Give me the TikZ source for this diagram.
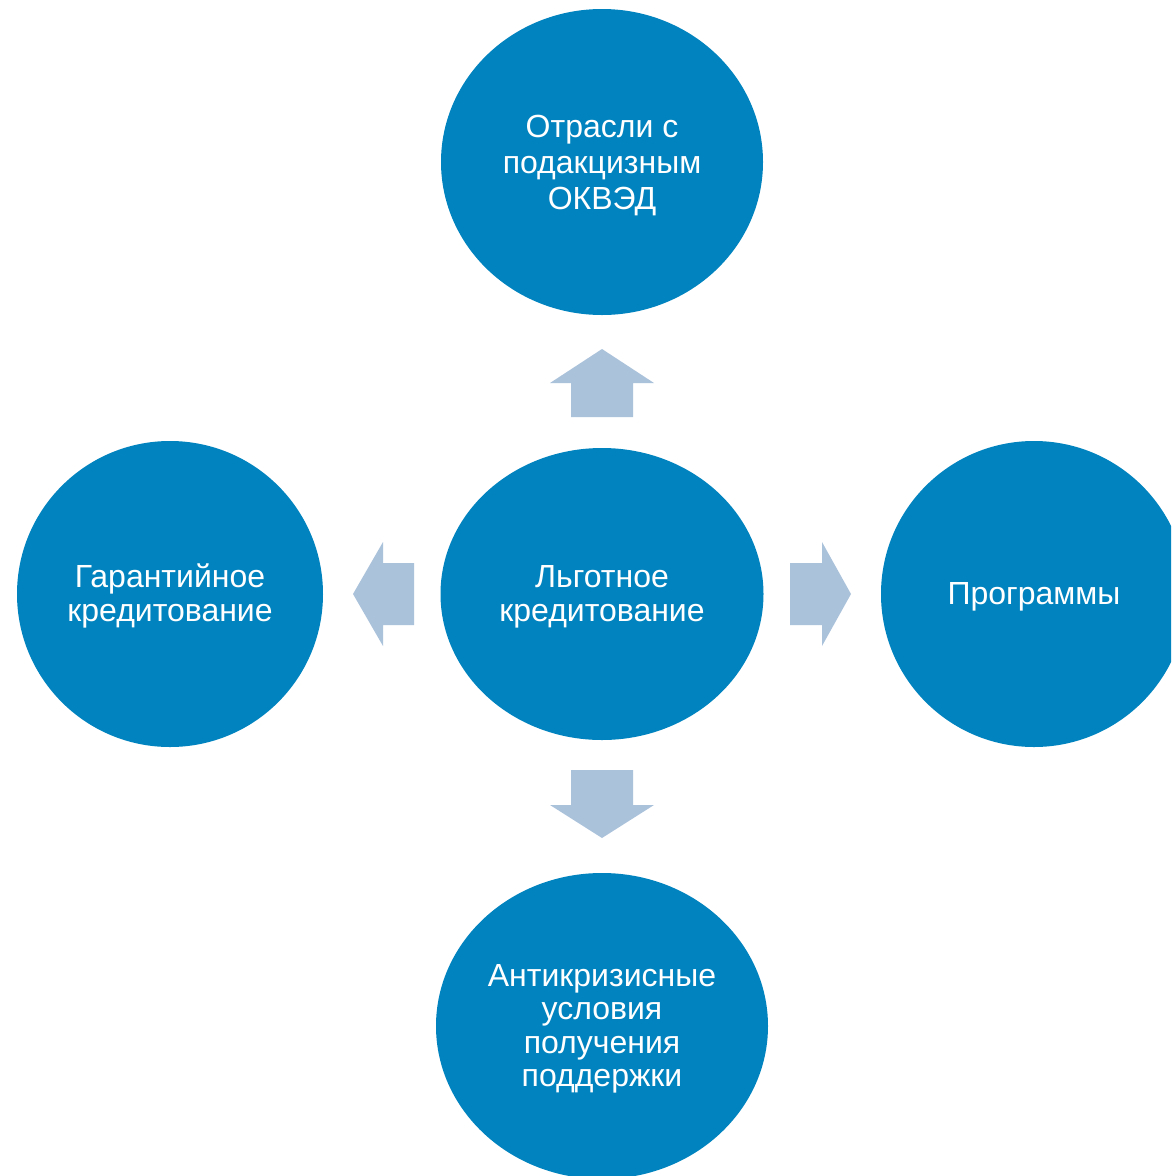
\documentclass[tikz,border=0pt]{standalone}
\usepackage{fontspec}
\setmainfont{Liberation Sans}
\usetikzlibrary{shapes.geometric}
\definecolor{circblue}{RGB}{0,131,190}
\definecolor{arrblue}{RGB}{171,194,219}
\newcommand{\bubtext}[2][34]{\fontsize{32}{#1}\selectfont\raisebox{-4pt}[\height][\depth]{\begin{tabular}{@{}c@{}}#2\end{tabular}}}
\begin{document}
\begin{tikzpicture}[x=1pt,y=-1pt,
  bubble/.style={ellipse,fill=circblue,draw=none,inner sep=0pt,text=white},
  blockarrow/.style={fill=arrblue,draw=none}]
\useasboundingbox (0,0) rectangle (1171,1176);
\clip (0,0) rectangle (1171,1176);
\node[bubble,minimum width=322pt,minimum height=306pt] (top) at (602,162) {\bubtext[36]{Отрасли с\\подакцизным\\ОКВЭД}};
\node[bubble,minimum width=323pt,minimum height=292pt] (center) at (602,594) {\bubtext{Льготное\\кредитование}};
\node[bubble,minimum width=306pt,minimum height=306pt] (left) at (170,594) {\bubtext{Гарантийное\\кредитование}};
\node[bubble,minimum width=306pt,minimum height=306pt] (right) at (1034,594) {\bubtext{Программы}};
\node[bubble,minimum width=332pt,minimum height=306pt] (bottom) at (602,1026) {\bubtext[33.5]{Антикризисные\\условия\\получения\\поддержки}};
% up arrow
\fill[blockarrow] (571,417) -- (571,383) -- (550,383) -- (602,349) -- (654,383) -- (633,383) -- (633,417) -- cycle;
% down arrow
\fill[blockarrow] (571,770) -- (571,805) -- (550,805) -- (602,838) -- (654,805) -- (633,805) -- (633,770) -- cycle;
% left arrow
\fill[blockarrow] (414,563) -- (383,563) -- (383,542) -- (353,594) -- (383,646) -- (383,625) -- (414,625) -- cycle;
% right arrow
\fill[blockarrow] (790,563) -- (822,563) -- (822,542) -- (851,594) -- (822,646) -- (822,625) -- (790,625) -- cycle;
\end{tikzpicture}
\end{document}
